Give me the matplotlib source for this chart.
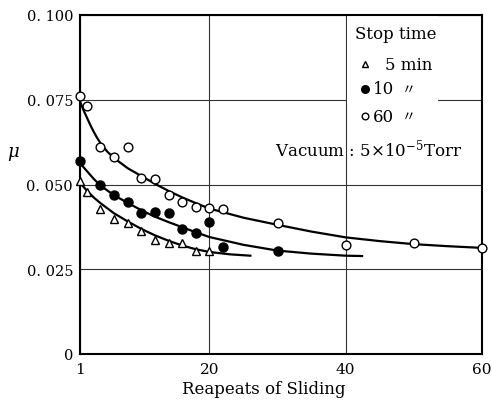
import matplotlib
matplotlib.use("Agg")
import matplotlib.pyplot as plt
from matplotlib.patches import Rectangle

plt.rcParams['font.family'] = ['DejaVu Serif']
plt.rcParams['mathtext.fontset'] = 'dejavuserif'

# ---- data ----
x5 = [1, 2, 4, 6, 8, 10, 12, 14, 16, 18, 20]
mu5 = [0.0510, 0.0478, 0.0428, 0.0398, 0.0386, 0.0363, 0.0336, 0.0327, 0.0327, 0.0304, 0.0304]

x10 = [1, 4, 6, 8, 10, 12, 14, 16, 18, 20, 22, 30]
mu10 = [0.0569, 0.0499, 0.0469, 0.0448, 0.0416, 0.0419, 0.0416, 0.0369, 0.0357, 0.0389, 0.0316, 0.0304]

x60 = [1, 2, 4, 6, 8, 10, 12, 14, 16, 18, 20, 22, 30, 40, 50, 60]
mu60 = [0.0761, 0.0732, 0.0611, 0.0581, 0.0611, 0.0519, 0.0516, 0.0469, 0.0448, 0.0434,
        0.0431, 0.0428, 0.0386, 0.0322, 0.0327, 0.0313]

# fitted curves
cx5 = [1, 2, 3, 4, 6, 8, 10, 12, 14, 16, 18, 20, 23, 26]
cmu5 = [0.0505, 0.0482, 0.0462, 0.0445, 0.0415, 0.0391, 0.0369, 0.0350, 0.0334, 0.0320,
        0.0309, 0.0301, 0.0294, 0.0290]

cx10 = [1, 2, 3, 4, 6, 8, 10, 12, 14, 16, 18, 20, 25, 30, 35, 40, 42.4]
cmu10 = [0.0563, 0.0540, 0.0517, 0.0497, 0.0468, 0.0446, 0.0424, 0.0405, 0.0389, 0.0374,
         0.0359, 0.0345, 0.0322, 0.0305, 0.0296, 0.0290, 0.0289]

cx60 = [1, 1.5, 2, 2.5, 3, 3.5, 4, 5, 6, 8, 10, 12, 14, 16, 18, 20, 25, 30, 35, 40, 45,
        50, 55, 60]
cmu60 = [0.0745, 0.0720, 0.0698, 0.0676, 0.0656, 0.0638, 0.0622, 0.0597, 0.0578, 0.0548,
         0.0525, 0.0502, 0.0481, 0.0462, 0.0445, 0.0429, 0.0402, 0.0381, 0.0361, 0.0344,
         0.0333, 0.0324, 0.0318, 0.0313]

xticks = [1, 20, 40, 60]
xticklabels = ["1", "20", "40", "60"]
yticks = [0, 0.025, 0.050, 0.075, 0.100]
yticklabels = ["0", "0. 025", "0. 050", "0. 075", "0. 100"]

# ---- figure ----
fig = plt.figure(figsize=(4.92, 4.06), dpi=100)
ax = fig.add_axes([80/492, 1-355/406, 402/492, 339/406])
ax.set_xlim(1, 60)
ax.set_ylim(0, 0.1)
ax.set_xticks(xticks)
ax.set_xticklabels(xticklabels)
ax.set_yticks(yticks)
ax.set_yticklabels(yticklabels)
ax.tick_params(length=0, labelsize=10.5, pad=5)
ax.tick_params(axis='x', pad=6, labelsize=11)
ax.set_axisbelow(True)
ax.grid(True, color='#333333', linewidth=0.8)
for s in ax.spines.values():
    s.set_linewidth(1.5)

# white area behind the legend text (interrupts the grid)
ax.add_patch(Rectangle((40.25, 0.0738), 13.3, 0.0258, facecolor='white',
                       edgecolor='none', zorder=1))

lw = 1.6
ax.plot(cx60, cmu60, color='black', lw=lw, zorder=3)
ax.plot(cx10, cmu10, color='black', lw=lw, zorder=3)
ax.plot(cx5, cmu5, color='black', lw=lw, zorder=3)

ax.plot(x60, mu60, 'o', ms=6.3, mfc='white', mec='black', mew=1.0, zorder=5, clip_on=False)
ax.plot(x10, mu10, 'o', ms=6.5, mfc='black', mec='black', mew=1.0, zorder=5, clip_on=False)
ax.plot(x5, mu5, '^', ms=5.2, mfc='white', mec='black', mew=1.0, zorder=5, clip_on=False)

# legend (manual)
ax.text(41.4, 0.0944, "Stop time", fontsize=12, va='center', ha='left', zorder=6)
ax.plot([42.85], [0.0855], '^', ms=4.5, mfc='white', mec='black', mew=1.0, zorder=6)
ax.text(45.8, 0.0855, "5 min", fontsize=12, va='center', ha='left', zorder=6)
ax.plot([42.85], [0.0782], 'o', ms=5.5, mfc='black', mec='black', mew=1.0, zorder=6)
ax.text(44.0, 0.0782, "10", fontsize=12, va='center', ha='left', zorder=6)
ax.text(48.3, 0.0782, "〃", fontsize=10, va='center', ha='left', zorder=6,
        family=['DejaVu Serif', 'Noto Sans CJK JP'])
ax.plot([42.85], [0.0702], 'o', ms=4.8, mfc='white', mec='black', mew=1.0, zorder=6)
ax.text(44.0, 0.0702, "60", fontsize=12, va='center', ha='left', zorder=6)
ax.text(48.3, 0.0702, "〃", fontsize=10, va='center', ha='left', zorder=6,
        family=['DejaVu Serif', 'Noto Sans CJK JP'])
ax.text(29.6, 0.0605, r"Vacuum : 5$\times$10$^{-5}$Torr", fontsize=12, va='center',
        ha='left', zorder=6)

fig.text(13/492, 1-154/406, r"$\mu$", fontsize=13, ha='center', va='center')
fig.text(264/492, 1-390/406, "Reapeats of Sliding", fontsize=12, ha='center', va='center')

fig.savefig("out.png", dpi=100, facecolor='white')
